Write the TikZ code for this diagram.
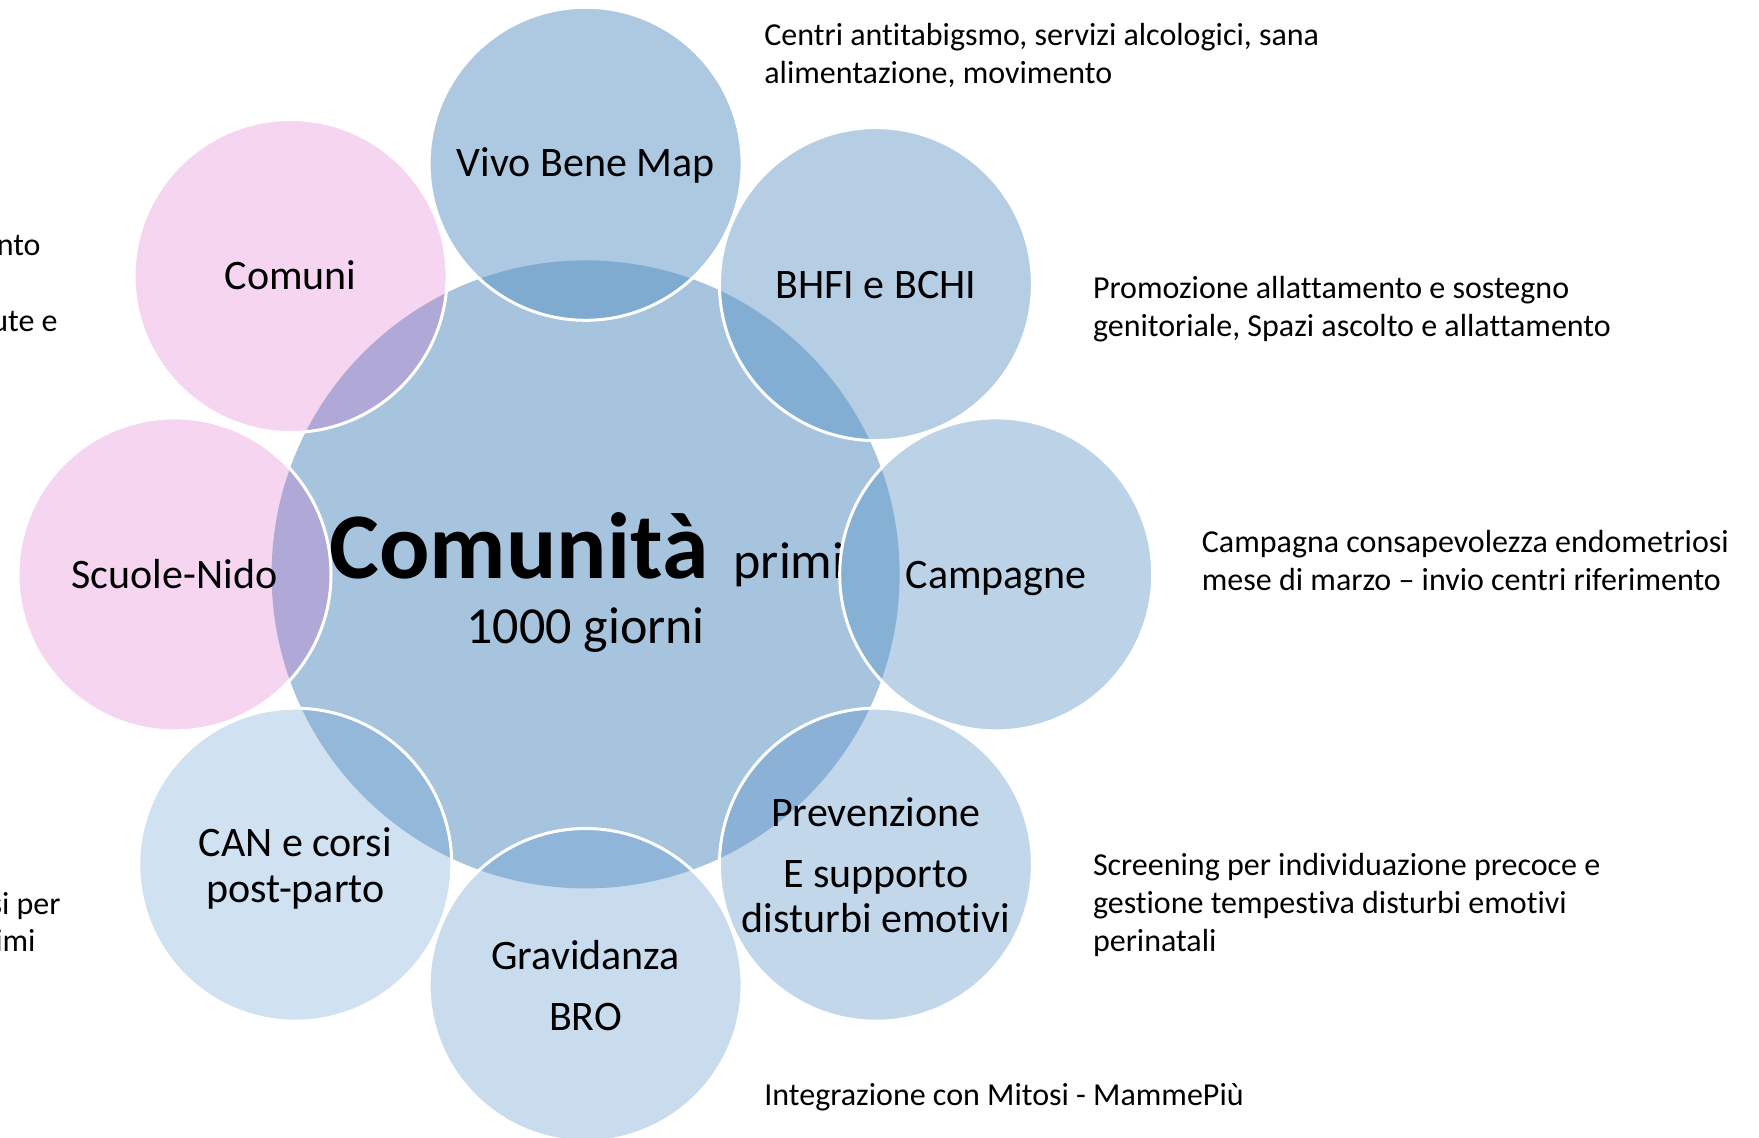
\documentclass[tikz,border=0pt]{standalone}
\usepackage{fontspec}
\setmainfont{Carlito}[Ligatures=CommonOff]
\definecolor{cmain}{HTML}{A7C4DE}
\definecolor{cvivo}{HTML}{ADC9E1}\definecolor{ovivo}{HTML}{7FABD0}
\definecolor{cbhfi}{HTML}{B5CEE4}\definecolor{obhfi}{HTML}{83AED3}
\definecolor{ccamp}{HTML}{BBD2E7}\definecolor{ocamp}{HTML}{87B0D5}
\definecolor{cprev}{HTML}{C2D7EA}\definecolor{oprev}{HTML}{8BB2D6}
\definecolor{cgrav}{HTML}{C9DCEE}\definecolor{ograv}{HTML}{8FB5D8}
\definecolor{ccan}{HTML}{D0E1F1}\definecolor{ocan}{HTML}{93B8D9}
\definecolor{cpink}{HTML}{F6D5F1}\definecolor{opink}{HTML}{B0A9D7}
\newcommand\satcircle[4]{%
  \fill[#3] (#1,#2) circle[radius=78.25pt];
  \begin{scope}
    \clip (C) circle[radius=157pt];
    \fill[#4] (#1,#2) circle[radius=78.25pt];
  \end{scope}
  \draw[ring] (#1,#2) circle[radius=78.25pt];
}
\begin{document}
\begin{tikzpicture}[x=0.5pt,y=-0.5pt,
  lab/.style={font=\fontsize{21}{25}\selectfont, inner sep=0pt, anchor=base},
  side/.style={font=\fontsize{16}{19}\selectfont, inner sep=0pt, anchor=base west},
  sider/.style={font=\fontsize{16}{19}\selectfont, inner sep=0pt, anchor=base east},
  ring/.style={white, line width=1.5pt}]
\useasboundingbox (0,0) rectangle (1759,1138);
\coordinate (C) at (585.6,574.4);
\fill[cmain] (C) circle[radius=157pt];
% centre text
\node[inner sep=0pt, anchor=base] (title) at (587,578)
  {\fontsize{47}{56}\selectfont\bfseries Comunità\hspace{2pt} {\mdseries\fontsize{26}{31}\selectfont primi}};
\node[inner sep=0pt, anchor=base, font=\fontsize{26}{31}\selectfont] (days) at (585.6,643) {1000 giorni};
% satellites
\satcircle{585.6}{163.8}{cvivo}{ovivo}
\satcircle{875.9}{284.1}{cbhfi}{obhfi}
\satcircle{996.2}{574.4}{ccamp}{ocamp}
\satcircle{875.9}{864.7}{cprev}{oprev}
\satcircle{585.6}{985}{cgrav}{ograv}
\satcircle{295.3}{864.7}{ccan}{ocan}
\satcircle{174.5}{574.4}{cpink}{opink}
\satcircle{290.6}{276}{cpink}{opink}
% satellite labels
\node[lab] (vivo) at (585.6,177) {Vivo Bene Map};
\node[lab] (bhfi) at (875.9,298.5) {BHFI e BCHI};
\node[lab] (camp) at (996.2,588) {Campagne};
\node[lab] (prev1) at (875.9,826) {Prevenzione};
\node[lab] (prev2) at (875.9,887) {E supporto};
\node[lab] (prev3) at (875.9,932) {disturbi emotivi};
\node[lab] (grav1) at (585.6,969) {Gravidanza};
\node[lab] (grav2) at (585.6,1030) {BRO};
\node[lab] (can1) at (295.3,856) {CAN e corsi};
\node[lab] (can2) at (295.3,902) {post-parto};
\node[lab] (scuole) at (174.5,588) {Scuole-Nido};
\node[lab] (comuni) at (290.6,289.5) {Comuni};
% side texts
\node[side] (t1a) at (764,46) {Centri antitabigsmo, servizi alcologici, sana};
\node[side] (t1b) at (764,84) {alimentazione, movimento};
\node[side] (t2a) at (1092.6,299) {Promozione allattamento e sostegno};
\node[side] (t2b) at (1092.6,337) {genitoriale, Spazi ascolto e allattamento};
\node[side] (t3a) at (1201.5,552) {Campagna consapevolezza endometriosi};
\node[side] (t3b) at (1201.5,590) {mese di marzo – invio centri riferimento};
\node[side] (t4a) at (1092.6,875) {Screening per individuazione precoce e};
\node[side] (t4b) at (1092.6,913) {gestione tempestiva disturbi emotivi};
\node[side] (t4c) at (1092.6,951) {perinatali};
\node[side] (t5) at (764,1105) {Integrazione con Mitosi - MammePiù};
\node[sider] (l1) at (41,256) {nto};
\node[sider] (l2) at (58,332) {ute e};
\node[sider] (l3) at (61,914) {si per};
\node[sider] (l4) at (36,951) {imi};
\end{tikzpicture}
\end{document}
